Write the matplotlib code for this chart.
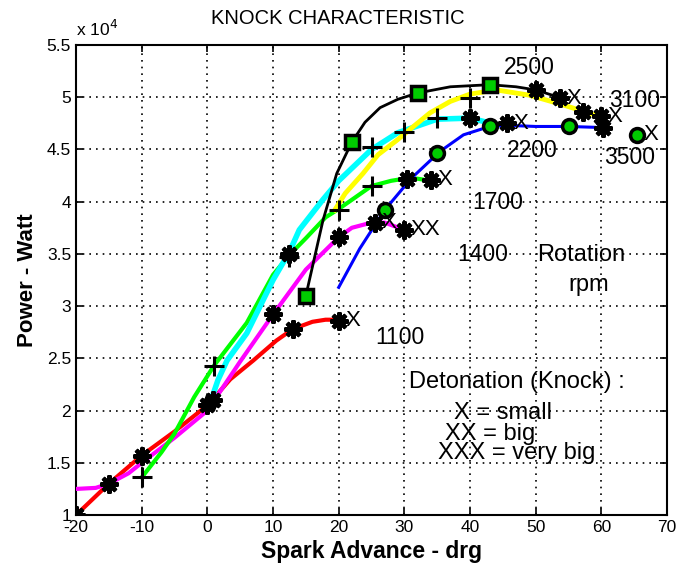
import matplotlib.pyplot as plt
from matplotlib.ticker import FuncFormatter

plt.rcParams['font.family'] = ['Liberation Sans', 'DejaVu Sans']
plt.rcParams['axes.unicode_minus'] = False

# power in units of 1e4 W
red_x = [-20, -15, -10, -5, 0, 3.5, 7, 10.5, 13, 16, 18, 20]
red_y = [1.0, 1.3, 1.57, 1.8, 2.05, 2.3, 2.48, 2.67, 2.78, 2.85, 2.87, 2.87]

magenta_x = [-20, -17, -15, -12, -10, -5, 0, 5, 10, 15, 20, 22, 25, 27, 30]
magenta_y = [1.25, 1.26, 1.3, 1.4, 1.5, 1.74, 2.0, 2.47, 2.92, 3.35, 3.66, 3.75, 3.8, 3.8, 3.73]

green_x = [-10, -7, -5, -2, 1, 6, 10, 12.5, 15, 18, 20, 25, 28, 30, 32, 34]
green_y = [1.36, 1.6, 1.78, 2.13, 2.43, 2.84, 3.3, 3.49, 3.65, 3.85, 3.93, 4.15, 4.2, 4.22, 4.22, 4.2]

cyan_x = [0.3, 1.6, 3, 6, 10, 12.5, 14, 17.6, 20, 25, 29, 35, 40, 42.6]
cyan_y = [2.05, 2.29, 2.48, 2.74, 3.25, 3.52, 3.73, 4.02, 4.2, 4.5, 4.66, 4.79, 4.8, 4.76]

black_x = [15, 17.6, 19.7, 22, 24, 26.3, 29, 32, 37, 43, 47, 50, 54]
black_y = [3.1, 3.82, 4.27, 4.57, 4.76, 4.9, 4.98, 5.04, 5.1, 5.12, 5.1, 5.07, 4.99]

yellow_x = [19.4, 21, 23.7, 26, 28.9, 31, 33.9, 37, 40, 44, 49, 54, 57, 59.5]
yellow_y = [3.92, 4.08, 4.27, 4.45, 4.59, 4.7, 4.85, 4.96, 5.03, 5.07, 5.02, 4.93, 4.87, 4.82]

blue_x = [20, 23.2, 27, 31, 35.4, 39, 43, 46, 50, 55, 60]
blue_y = [3.18, 3.55, 3.92, 4.22, 4.48, 4.64, 4.72, 4.73, 4.72, 4.72, 4.71]

# marker points
star_x = [-20, -15, -10, 0, 0.8, 13, 20, 10, 20, 25.5, 30, 30.4, 34, 12.5, 40, 50, 53.7, 57.2, 60, 45.6, 60.2]
star_y = [1.0, 1.3, 1.57, 2.05, 2.1, 2.78, 2.86, 2.92, 3.66, 3.8, 3.73, 4.22, 4.21, 3.5, 4.8, 5.07, 4.99, 4.86, 4.82, 4.75, 4.71]
plus_x = [-10, 1, 12.5, 25, 20, 30, 40, 25, 35]
plus_y = [1.36, 2.43, 3.47, 4.15, 3.92, 4.67, 4.99, 4.52, 4.8]
square_x = [15, 22, 32, 43]
square_y = [3.1, 4.57, 5.04, 5.12]
circle_x = [27, 35, 43, 55, 65.4]
circle_y = [3.92, 4.47, 4.72, 4.72, 4.64]

# knock marks written after a marker
knock_x = [20, 25.5, 30, 34, 53.7, 60, 45.6, 65.4]
knock_y = [2.86, 3.8, 3.73, 4.21, 4.99, 4.82, 4.75, 4.64]
knock_txt = ['X', 'X', 'XX', 'X', 'X', 'X', 'X', 'X']

rpm_labels = ['2500', '3100', '2200', '3500', '1700', '1400', '1100']
rpm_x = [49.1, 65.1, 49.4, 64.3, 44.2, 42.0, 29.3]
rpm_y = [5.28, 4.97, 4.49, 4.42, 3.99, 3.49, 2.7]

fig = plt.figure(figsize=(6.77, 5.71), dpi=100)
ax = fig.add_axes([0.1123, 0.098, 0.873, 0.8232])

ax.plot(red_x, red_y, color='#ff0000', lw=3, zorder=3)
ax.plot(magenta_x, magenta_y, color='#ff00ff', lw=3, zorder=3)
ax.plot(green_x, green_y, color='#00ff00', lw=3, zorder=3)
ax.plot(cyan_x, cyan_y, color='#00ffff', lw=4, zorder=3)
ax.plot(black_x, black_y, color='black', lw=2, zorder=4)
ax.plot(yellow_x, yellow_y, color='#ffff00', lw=3.5, zorder=4)
ax.plot(blue_x, blue_y, color='#0000ff', lw=2.2, zorder=5)

ax.plot(star_x, star_y, ls='none', marker=(8, 2, 0), ms=13, mew=3, color='black', zorder=6)
ax.plot(plus_x, plus_y, ls='none', marker='+', ms=14, mew=2.2, color='black', zorder=6)
ax.plot(square_x, square_y, ls='none', marker='s', ms=10, mew=2.5, mfc='#00cc00', mec='black', zorder=6)
ax.plot(circle_x, circle_y, ls='none', marker='o', ms=10, mew=2.5, mfc='#00cc00', mec='black', zorder=6)

for x, y, t in zip(knock_x, knock_y, knock_txt):
    ax.text(x + 1.0, y, t, fontsize=16, ha='left', va='center', zorder=7)

for x, y, t in zip(rpm_x, rpm_y, rpm_labels):
    ax.text(x, y, t, fontsize=16.5, ha='center', va='center', zorder=7)

ax.text(57, 3.49, 'Rotation', fontsize=17, ha='center', va='center')
ax.text(58, 3.2, 'rpm', fontsize=17, ha='center', va='center')
ax.text(47.1, 2.27, 'Detonation (Knock) :', fontsize=17, ha='center', va='center')
ax.text(45, 1.98, 'X = small', fontsize=17, ha='center', va='center')
ax.text(43, 1.78, 'XX = big', fontsize=17, ha='center', va='center')
ax.text(47.1, 1.59, 'XXX = very big', fontsize=17, ha='center', va='center')

ax.set_xlim(-20, 70)
ax.set_ylim(1, 5.5)
ax.set_xticks(range(-20, 71, 10))
ax.set_yticks([1, 1.5, 2, 2.5, 3, 3.5, 4, 4.5, 5, 5.5])
ax.yaxis.set_major_formatter(FuncFormatter(lambda v, p: f'{v:g}'))
ax.tick_params(direction='in', length=5, width=1.2, top=True, right=True, labelsize=12.5)
ax.grid(True, color='black', linestyle=(0, (1, 3)), linewidth=1.2)
for s in ax.spines.values():
    s.set_linewidth(1.5)

ax.text(-20, 5.56, r'x 10$^4$', fontsize=12.5, ha='left', va='bottom')
fig.text(338 / 677, 1 - 18 / 571, 'KNOCK CHARACTERISTIC', fontsize=14.5, ha='center', va='center')
ax.set_xlabel('Spark Advance - drg', fontsize=16.5, fontweight='bold', labelpad=4)
ax.set_ylabel('Power - Watt', fontsize=16, fontweight='bold', labelpad=6)

fig.savefig('out.png', dpi=100)
